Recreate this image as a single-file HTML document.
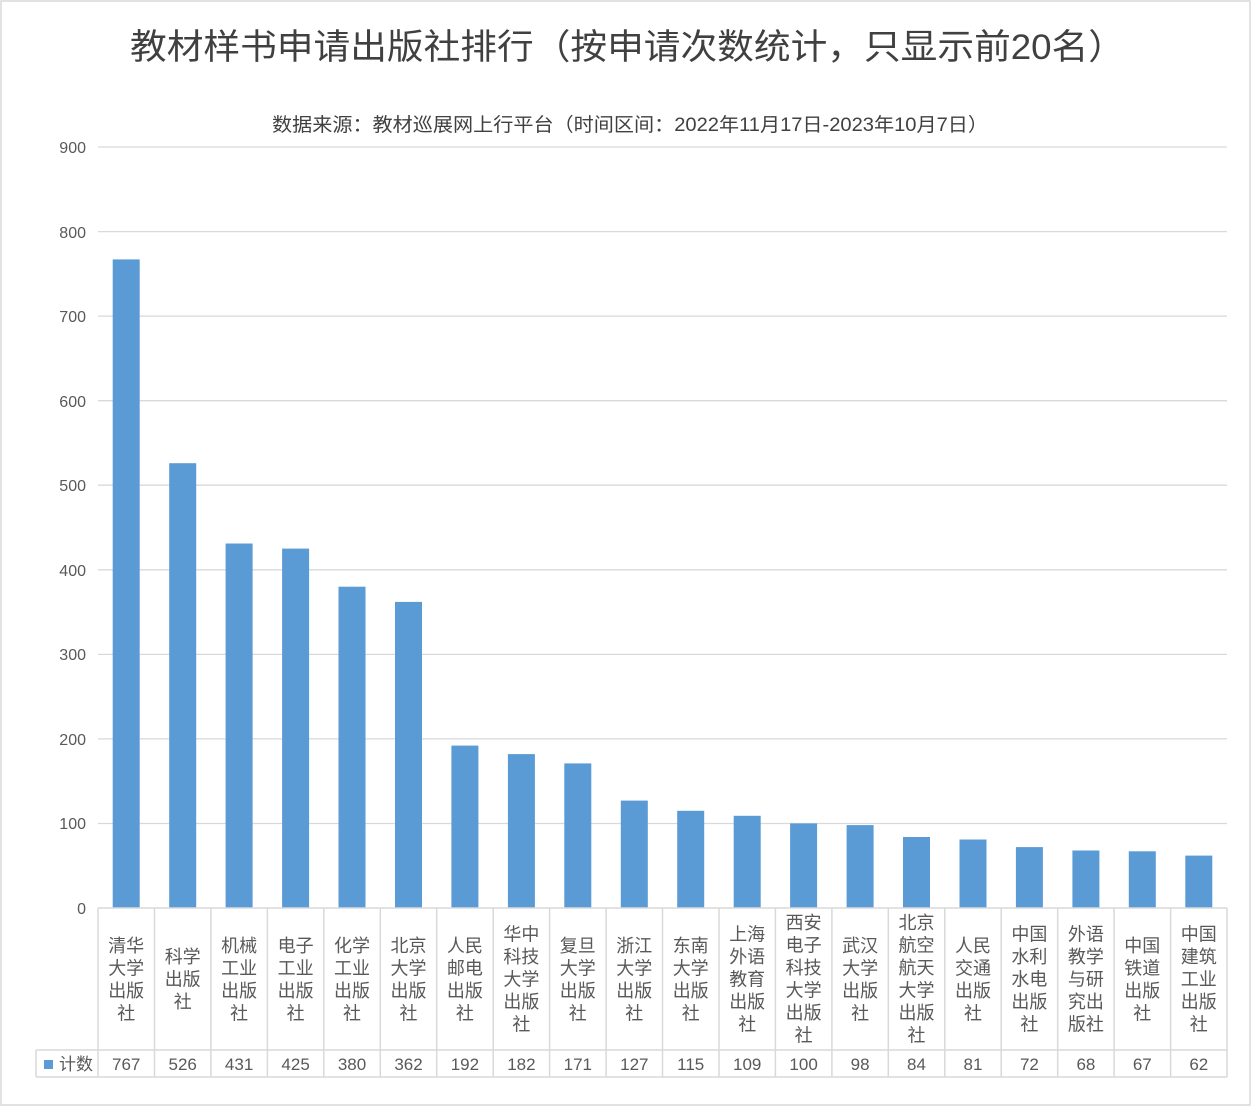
<!DOCTYPE html>
<html><head><meta charset="utf-8"><style>
html,body{margin:0;padding:0;background:#fff;}
svg{display:block;font-family:"Liberation Sans","Noto Sans CJK SC",sans-serif;}
</style></head><body>
<svg width="1252" height="1107" viewBox="0 0 1252 1107" xmlns="http://www.w3.org/2000/svg">
<rect x="1" y="1" width="1249" height="1104" fill="#fff" stroke="#d9d9d9" stroke-width="1.5"/>
<text x="130" y="59" font-size="35" fill="#404040" textLength="995" lengthAdjust="spacingAndGlyphs">教材样书申请出版社排行（按申请次数统计，只显示前20名）</text>
<text x="272" y="131" font-size="19" fill="#404040" textLength="716" lengthAdjust="spacingAndGlyphs">数据来源：教材巡展网上行平台（时间区间：2022年11月17日-2023年10月7日）</text>
<g stroke="#d9d9d9" stroke-width="1.3">
<line x1="98" x2="1227" y1="147" y2="147"/><line x1="98" x2="1227" y1="231.6" y2="231.6"/>
<line x1="98" x2="1227" y1="316.1" y2="316.1"/><line x1="98" x2="1227" y1="400.7" y2="400.7"/>
<line x1="98" x2="1227" y1="485.2" y2="485.2"/><line x1="98" x2="1227" y1="569.8" y2="569.8"/>
<line x1="98" x2="1227" y1="654.4" y2="654.4"/><line x1="98" x2="1227" y1="738.9" y2="738.9"/>
<line x1="98" x2="1227" y1="823.5" y2="823.5"/>
</g>
<g font-size="16" fill="#595959" text-anchor="end">
<text x="86" y="153">900</text><text x="86" y="238">800</text><text x="86" y="322">700</text>
<text x="86" y="407">600</text><text x="86" y="491">500</text><text x="86" y="576">400</text>
<text x="86" y="660">300</text><text x="86" y="745">200</text><text x="86" y="829">100</text>
<text x="86" y="914">0</text>
</g>
<g fill="#5b9bd5">
<rect x="112.7" y="259.4" width="27" height="648.6"/>
<rect x="169.2" y="463.2" width="27" height="444.8"/>
<rect x="225.6" y="543.5" width="27" height="364.5"/>
<rect x="282.1" y="548.6" width="27" height="359.4"/>
<rect x="338.5" y="586.7" width="27" height="321.3"/>
<rect x="395" y="601.9" width="27" height="306.1"/>
<rect x="451.4" y="745.6" width="27" height="162.4"/>
<rect x="507.9" y="754.1" width="27" height="153.9"/>
<rect x="564.3" y="763.4" width="27" height="144.6"/>
<rect x="620.8" y="800.6" width="27" height="107.4"/>
<rect x="677.2" y="810.8" width="27" height="97.2"/>
<rect x="733.7" y="815.8" width="27" height="92.2"/>
<rect x="790.1" y="823.4" width="27" height="84.6"/>
<rect x="846.6" y="825.1" width="27" height="82.9"/>
<rect x="903" y="837" width="27" height="71"/>
<rect x="959.5" y="839.5" width="27" height="68.5"/>
<rect x="1015.9" y="847.1" width="27" height="60.9"/>
<rect x="1072.4" y="850.5" width="27" height="57.5"/>
<rect x="1128.8" y="851.3" width="27" height="56.7"/>
<rect x="1185.3" y="855.6" width="27" height="52.4"/>
</g>
<g stroke="#d9d9d9" stroke-width="1.5" fill="none">
<line x1="98" x2="1227" y1="908" y2="908"/>
<line x1="36" x2="1227" y1="1050" y2="1050"/>
<line x1="36" x2="1227" y1="1077" y2="1077"/>
<line x1="36" x2="36" y1="1050" y2="1077"/>
<line x1="98" x2="98" y1="908" y2="1077"/><line x1="154.5" x2="154.5" y1="908" y2="1077"/>
<line x1="210.9" x2="210.9" y1="908" y2="1077"/><line x1="267.4" x2="267.4" y1="908" y2="1077"/>
<line x1="323.8" x2="323.8" y1="908" y2="1077"/><line x1="380.3" x2="380.3" y1="908" y2="1077"/>
<line x1="436.7" x2="436.7" y1="908" y2="1077"/><line x1="493.2" x2="493.2" y1="908" y2="1077"/>
<line x1="549.6" x2="549.6" y1="908" y2="1077"/><line x1="606.1" x2="606.1" y1="908" y2="1077"/>
<line x1="662.5" x2="662.5" y1="908" y2="1077"/><line x1="719" x2="719" y1="908" y2="1077"/>
<line x1="775.4" x2="775.4" y1="908" y2="1077"/><line x1="831.9" x2="831.9" y1="908" y2="1077"/>
<line x1="888.3" x2="888.3" y1="908" y2="1077"/><line x1="944.8" x2="944.8" y1="908" y2="1077"/>
<line x1="1001.2" x2="1001.2" y1="908" y2="1077"/><line x1="1057.7" x2="1057.7" y1="908" y2="1077"/>
<line x1="1114.1" x2="1114.1" y1="908" y2="1077"/><line x1="1170.6" x2="1170.6" y1="908" y2="1077"/>
<line x1="1227" x2="1227" y1="908" y2="1077"/>
</g>
<g font-size="18" fill="#595959" text-anchor="middle">
<text x="126.2" y="952"><tspan x="126.2">清华</tspan><tspan x="126.2" dy="22.5">大学</tspan><tspan x="126.2" dy="22.5">出版</tspan><tspan x="126.2" dy="22.5">社</tspan></text>
<text x="182.7" y="963"><tspan x="182.7">科学</tspan><tspan x="182.7" dy="22.5">出版</tspan><tspan x="182.7" dy="22.5">社</tspan></text>
<text x="239.1" y="952"><tspan x="239.1">机械</tspan><tspan x="239.1" dy="22.5">工业</tspan><tspan x="239.1" dy="22.5">出版</tspan><tspan x="239.1" dy="22.5">社</tspan></text>
<text x="295.6" y="952"><tspan x="295.6">电子</tspan><tspan x="295.6" dy="22.5">工业</tspan><tspan x="295.6" dy="22.5">出版</tspan><tspan x="295.6" dy="22.5">社</tspan></text>
<text x="352" y="952"><tspan x="352">化学</tspan><tspan x="352" dy="22.5">工业</tspan><tspan x="352" dy="22.5">出版</tspan><tspan x="352" dy="22.5">社</tspan></text>
<text x="408.5" y="952"><tspan x="408.5">北京</tspan><tspan x="408.5" dy="22.5">大学</tspan><tspan x="408.5" dy="22.5">出版</tspan><tspan x="408.5" dy="22.5">社</tspan></text>
<text x="464.9" y="952"><tspan x="464.9">人民</tspan><tspan x="464.9" dy="22.5">邮电</tspan><tspan x="464.9" dy="22.5">出版</tspan><tspan x="464.9" dy="22.5">社</tspan></text>
<text x="521.4" y="940.5"><tspan x="521.4">华中</tspan><tspan x="521.4" dy="22.5">科技</tspan><tspan x="521.4" dy="22.5">大学</tspan><tspan x="521.4" dy="22.5">出版</tspan><tspan x="521.4" dy="22.5">社</tspan></text>
<text x="577.8" y="952"><tspan x="577.8">复旦</tspan><tspan x="577.8" dy="22.5">大学</tspan><tspan x="577.8" dy="22.5">出版</tspan><tspan x="577.8" dy="22.5">社</tspan></text>
<text x="634.3" y="952"><tspan x="634.3">浙江</tspan><tspan x="634.3" dy="22.5">大学</tspan><tspan x="634.3" dy="22.5">出版</tspan><tspan x="634.3" dy="22.5">社</tspan></text>
<text x="690.7" y="952"><tspan x="690.7">东南</tspan><tspan x="690.7" dy="22.5">大学</tspan><tspan x="690.7" dy="22.5">出版</tspan><tspan x="690.7" dy="22.5">社</tspan></text>
<text x="747.2" y="940.5"><tspan x="747.2">上海</tspan><tspan x="747.2" dy="22.5">外语</tspan><tspan x="747.2" dy="22.5">教育</tspan><tspan x="747.2" dy="22.5">出版</tspan><tspan x="747.2" dy="22.5">社</tspan></text>
<text x="803.6" y="929"><tspan x="803.6">西安</tspan><tspan x="803.6" dy="22.5">电子</tspan><tspan x="803.6" dy="22.5">科技</tspan><tspan x="803.6" dy="22.5">大学</tspan><tspan x="803.6" dy="22.5">出版</tspan><tspan x="803.6" dy="22.5">社</tspan></text>
<text x="860.1" y="952"><tspan x="860.1">武汉</tspan><tspan x="860.1" dy="22.5">大学</tspan><tspan x="860.1" dy="22.5">出版</tspan><tspan x="860.1" dy="22.5">社</tspan></text>
<text x="916.5" y="929"><tspan x="916.5">北京</tspan><tspan x="916.5" dy="22.5">航空</tspan><tspan x="916.5" dy="22.5">航天</tspan><tspan x="916.5" dy="22.5">大学</tspan><tspan x="916.5" dy="22.5">出版</tspan><tspan x="916.5" dy="22.5">社</tspan></text>
<text x="973" y="952"><tspan x="973">人民</tspan><tspan x="973" dy="22.5">交通</tspan><tspan x="973" dy="22.5">出版</tspan><tspan x="973" dy="22.5">社</tspan></text>
<text x="1029.4" y="940.5"><tspan x="1029.4">中国</tspan><tspan x="1029.4" dy="22.5">水利</tspan><tspan x="1029.4" dy="22.5">水电</tspan><tspan x="1029.4" dy="22.5">出版</tspan><tspan x="1029.4" dy="22.5">社</tspan></text>
<text x="1085.9" y="940.5"><tspan x="1085.9">外语</tspan><tspan x="1085.9" dy="22.5">教学</tspan><tspan x="1085.9" dy="22.5">与研</tspan><tspan x="1085.9" dy="22.5">究出</tspan><tspan x="1085.9" dy="22.5">版社</tspan></text>
<text x="1142.3" y="952"><tspan x="1142.3">中国</tspan><tspan x="1142.3" dy="22.5">铁道</tspan><tspan x="1142.3" dy="22.5">出版</tspan><tspan x="1142.3" dy="22.5">社</tspan></text>
<text x="1198.8" y="940.5"><tspan x="1198.8">中国</tspan><tspan x="1198.8" dy="22.5">建筑</tspan><tspan x="1198.8" dy="22.5">工业</tspan><tspan x="1198.8" dy="22.5">出版</tspan><tspan x="1198.8" dy="22.5">社</tspan></text>
</g>
<rect x="44" y="1060" width="9" height="9" fill="#5b9bd5"/>
<g font-size="17" fill="#595959" text-anchor="middle">
<text x="76" y="1070">计数</text>
<text x="126.2" y="1070">767</text><text x="182.7" y="1070">526</text><text x="239.1" y="1070">431</text>
<text x="295.6" y="1070">425</text><text x="352" y="1070">380</text><text x="408.5" y="1070">362</text>
<text x="464.9" y="1070">192</text><text x="521.4" y="1070">182</text><text x="577.8" y="1070">171</text>
<text x="634.3" y="1070">127</text><text x="690.7" y="1070">115</text><text x="747.2" y="1070">109</text>
<text x="803.6" y="1070">100</text><text x="860.1" y="1070">98</text><text x="916.5" y="1070">84</text>
<text x="973" y="1070">81</text><text x="1029.4" y="1070">72</text><text x="1085.9" y="1070">68</text>
<text x="1142.3" y="1070">67</text><text x="1198.8" y="1070">62</text>
</g>
</svg>
</body></html>
